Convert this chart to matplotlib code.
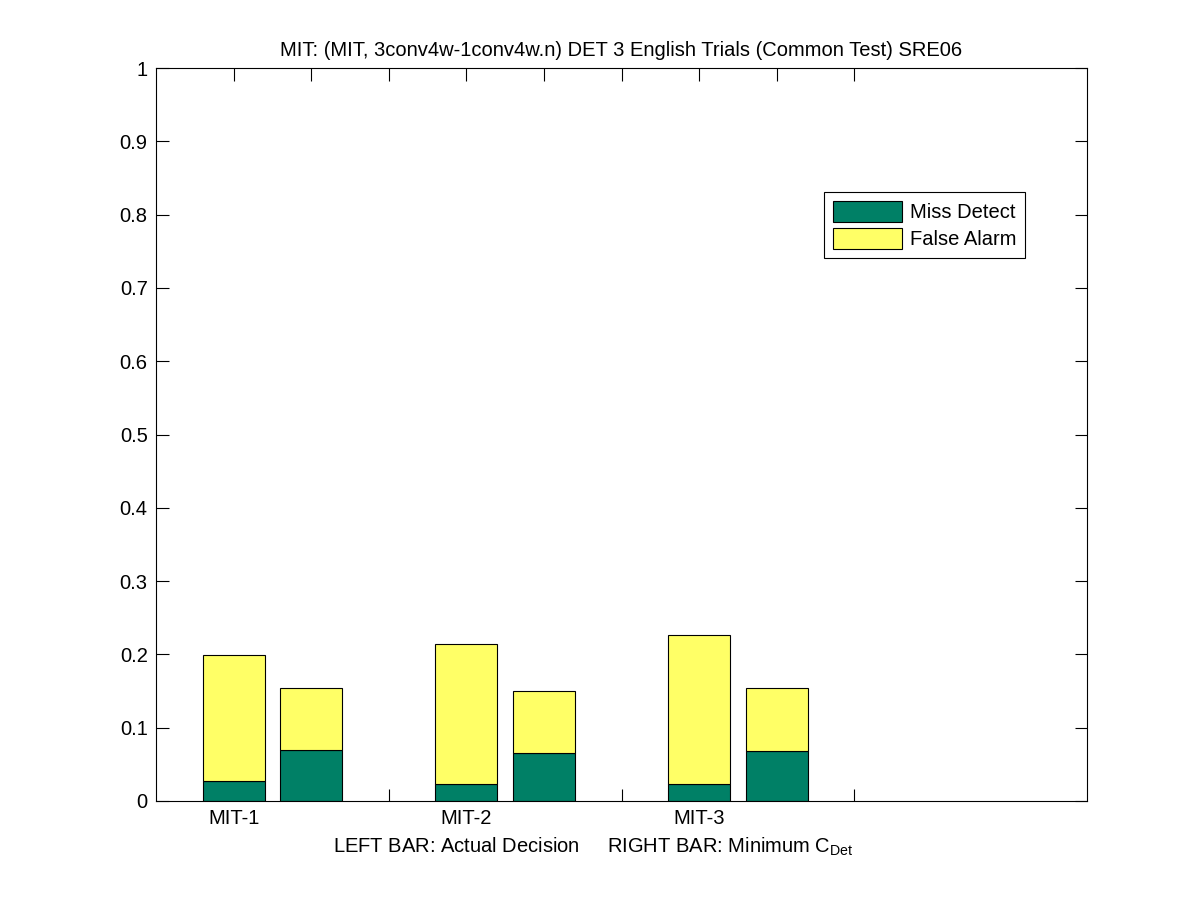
import numpy as np
import matplotlib
matplotlib.use('Agg')
import matplotlib.pyplot as plt

plt.rcParams['font.family'] = ['Liberation Sans', 'DejaVu Sans']
plt.rcParams['mathtext.fontset'] = 'custom'
plt.rcParams['mathtext.rm'] = 'Liberation Sans'
plt.rcParams['mathtext.it'] = 'Liberation Sans'

# donnees
systems = ['MIT-1', 'MIT-2', 'MIT-3']
miss_actual = [0.027, 0.023, 0.023]
total_actual = [0.199, 0.214, 0.227]
miss_min = [0.069, 0.065, 0.068]
total_min = [0.154, 0.150, 0.154]

fa_actual = [t - m for t, m in zip(total_actual, miss_actual)]
fa_min = [t - m for t, m in zip(total_min, miss_min)]

green = '#008066'
yellow = '#FFFF66'
fs = 14.5

fig = plt.figure(figsize=(12.01, 9), dpi=100)
ax = fig.add_axes([0.1299, 0.11, 0.7752, 0.8144])
ax.set_axisbelow(True)  # les barres cachent les ticks du bas

# positions des barres : gauche = decision actuelle, droite = minimum
pos_left = np.array([1.0, 2.5, 4.0])
pos_right = pos_left + 0.5
w = 0.4

ax.bar(pos_left, miss_actual, w, color=green, edgecolor='black', linewidth=0.8, label='Miss Detect')
ax.bar(pos_left, fa_actual, w, bottom=miss_actual, color=yellow, edgecolor='black', linewidth=0.8, label='False Alarm')
ax.bar(pos_right, miss_min, w, color=green, edgecolor='black', linewidth=0.8)
ax.bar(pos_right, fa_min, w, bottom=miss_min, color=yellow, edgecolor='black', linewidth=0.8)

ax.set_xlim(0.5, 6.5)
ax.set_ylim(0, 1)
ax.set_yticks(np.arange(0, 1.01, 0.1))
ax.set_yticklabels(['0', '0.1', '0.2', '0.3', '0.4', '0.5', '0.6', '0.7', '0.8', '0.9', '1'])

xt = np.arange(1.0, 5.01, 0.5)
ax.set_xticks(xt)
labels = []
for v in xt:
    if v in pos_left:
        labels.append(systems[list(pos_left).index(v)])
    else:
        labels.append('')
ax.set_xticklabels(labels)

ax.tick_params(direction='in', length=9, width=0.8, top=True, right=True, labelsize=fs, pad=6)
for s in ax.spines.values():
    s.set_linewidth(0.8)

ax.set_title('MIT: (MIT, 3conv4w-1conv4w.n) DET 3 English Trials (Common Test) SRE06', fontsize=fs, pad=9)
ax.set_xlabel(r'LEFT BAR: Actual Decision     RIGHT BAR: Minimum C$_{\mathrm{Det}}$', fontsize=fs)
ax.xaxis.set_label_coords(0.47, -0.047, transform=ax.transAxes)
ax.xaxis.label.set_va('top')

leg = ax.legend(loc='upper left', bbox_to_anchor=(0.7175, 0.8308), fontsize=fs,
                fancybox=False, edgecolor='black', framealpha=1, borderaxespad=0,
                handlelength=3.4, handleheight=1.2, handletextpad=0.4, labelspacing=0.3,
                borderpad=0.45)
leg.get_frame().set_linewidth(0.8)

plt.savefig('out.png', dpi=100)
